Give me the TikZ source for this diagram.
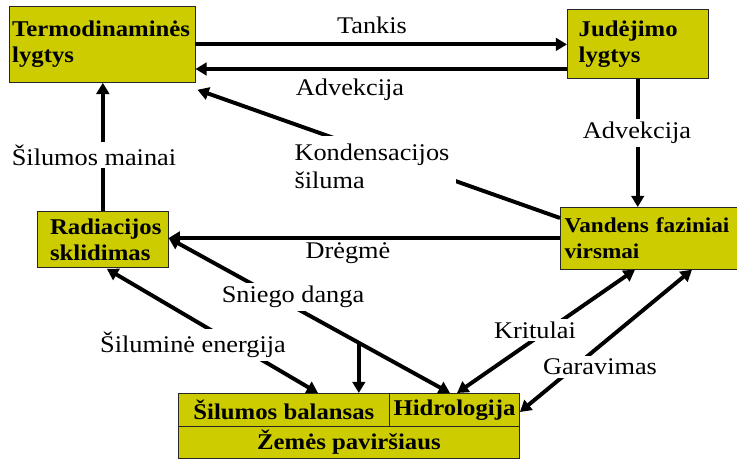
\documentclass[tikz,border=0pt]{standalone}
\usepackage{fontspec}
\setmainfont{Liberation Serif}[FakeStretch=1.1]
\usetikzlibrary{arrows.meta, calc}
\definecolor{boxyellow}{RGB}{204,204,0}

\begin{document}
\begin{tikzpicture}[
        x=0.025cm, y=-0.025cm,
        box/.style={rectangle, draw=black!85, line width=0.6pt, fill=boxyellow, anchor=north west,
            align=left, font=\fontsize{16}{18.5}\selectfont\bfseries},
        lbl/.style={fill=white, inner sep=2pt, align=left, font=\fontsize{17}{20}\selectfont},
        arrow/.style={line width=3pt, -{Triangle[length=8pt, width=9pt]}},
        darrow/.style={line width=2.8pt, {Triangle[length=8pt, width=9pt]}-{Triangle[length=8pt, width=9pt]}},
        line/.style={line width=2.8pt}
    ]
        \useasboundingbox (0,0) rectangle (737,460);

        % Boxes
        \node[box, text width=128pt, inner xsep=2pt, minimum height=54pt] (termo) at (9,6) {Termodinaminės\\lygtys};
        \node[box, text width=84pt, inner xsep=8pt, minimum height=49pt] (jud) at (567,9) {Judėjimo\\lygtys};
        \node[box, text width=75pt, inner xsep=9pt, minimum height=39.8pt] (rad) at (37,211) {Radiacijos\\sklidimas};
        \node[box, text width=140pt, inner xsep=3pt, minimum height=44pt,
            font=\fontsize{15}{18.5}\selectfont\bfseries] (vand) at (560,207) {Vandens faziniai\\virsmai};

        % Surface block
        \node[box, minimum width=150pt, minimum height=23.5pt, inner sep=0pt] (silb) at (178,393) {Šilumos balansas};
        \node[box, minimum width=92.5pt, minimum height=23.5pt, inner sep=0pt] (hidro) at (389,393) {Hidrologija};
        \node[box, minimum width=242.6pt, minimum height=22.8pt, inner sep=0pt] (zemes) at (178,426) {Žemės paviršiaus};

        % Top arrows
        \draw[arrow] (termo.east) -- (termo.east -| jud.west);
        \draw[arrow] (jud.west |- 0,69) -- (termo.east |- 0,69);
        \node[lbl] (tankis) at (372,25) {Tankis};
        \node[lbl] (adv1) at (350,90) {Advekcija};

        % Condensation
        \draw[line, -{Triangle[length=8pt, width=9pt]}] (vand.west |- 0,218) -- ([shift={(2,7)}]termo.south east);
        \node[lbl, inner sep=5pt] (kond) at (372,166) {Kondensacijos\\šiluma};

        % Right vertical
        \draw[arrow] (jud.south) -- (jud.south |- vand.north);
        \node[lbl] (adv2) at (637,133) {Advekcija};

        % Moisture
        \draw[arrow] (vand.west |- 0,238) -- (rad.east |- 0,238);
        \node[lbl, fill=none] (dreg) at (348,253) {Drėgmė};

        % Left vertical
        \draw[arrow] (rad.north) -- (rad.north |- termo.south);
        \node[lbl] (silmain) at (94,155) {Šilumos mainai};

        % Snow cover
        \draw[darrow] (rad.east |- 0,238) -- coordinate[pos=0.676] (snow) (hidro.north -| 450,0);
        \draw[arrow] (snow) -- (snow |- silb.north);
        \node[lbl] (sniego) at (293,297) {Sniego danga};

        % Heat energy
        \draw[darrow] ([shift={(4,1)}]rad.south) -- (silb.north -| 318,0);
        \node[lbl] (silen) at (193,345) {Šiluminė energija};

        % Precipitation and evaporation
        \draw[darrow] (vand.south -| 635,0) -- (hidro.north -| 457,0);
        \node[lbl] (krit) at (535,330) {Kritulai};
        \draw[darrow] (vand.south -| 692,0) -- (hidro.east |- 0,412);
        \node[lbl] (garav) at (600,367) {Garavimas};
    \end{tikzpicture}
\end{document}
